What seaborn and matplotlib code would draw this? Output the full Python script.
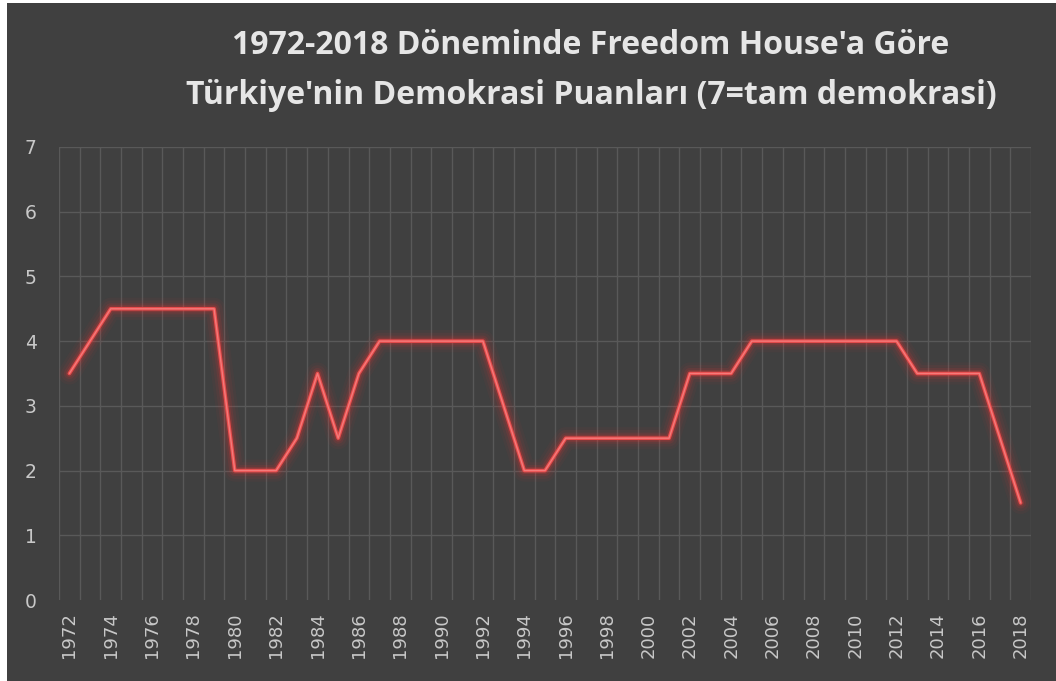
import matplotlib
matplotlib.use("Agg")
import matplotlib.pyplot as plt
import seaborn as sns
import pandas as pd
from matplotlib.patches import Rectangle

years = list(range(1972, 2019))
scores = [3.5, 4, 4.5, 4.5, 4.5, 4.5, 4.5, 4.5, 2, 2, 2, 2.5, 3.5, 2.5, 3.5, 4,
          4, 4, 4, 4, 4, 3, 2, 2, 2.5, 2.5, 2.5, 2.5, 2.5, 2.5, 3.5, 3.5, 3.5, 4,
          4, 4, 4, 4, 4, 4, 4, 3.5, 3.5, 3.5, 3.5, 2.5, 1.5]
y_ticks = [0, 1, 2, 3, 4, 5, 6, 7]
title_lines = ["1972-2018 Döneminde Freedom House'a Göre",
               "Türkiye'nin Demokrasi Puanları (7=tam demokrasi)"]

df = pd.DataFrame({"idx": range(len(years)), "year": years, "score": scores})

sns.set_theme(style="dark")
plt.rcParams['font.family'] = ['DejaVu Sans']

BG = "#404040"
fig = plt.figure(figsize=(10.56, 6.81), dpi=100, facecolor="white")
fig.patches.append(Rectangle((7 / 1056, 0), 1, 1 - 3 / 681, transform=fig.transFigure,
                             facecolor=BG, edgecolor="none", zorder=-5))
ax = fig.add_axes([59 / 1056, 1 - 600 / 681, (1031 - 59) / 1056, (600 - 147) / 681])
ax.set_zorder(1)
ax.set_facecolor(BG)

# glow layers
for lw, a in [(16, 0.04), (12, 0.06), (8, 0.10), (5, 0.18)]:
    ax.plot(df["idx"], df["score"], color="#ff3030", lw=lw, alpha=a,
            solid_joinstyle="round", solid_capstyle="round", zorder=2)
sns.lineplot(data=df, x="idx", y="score", ax=ax, color="#e84c4c", lw=2.6, zorder=3)
ax.plot(df["idx"], df["score"], color="#f47a7a", lw=1.0, zorder=4)

ax.set_xlim(-0.5, len(years) - 0.5)
ax.set_ylim(0, 7)
ax.set_yticks(y_ticks)
ax.set_yticklabels([str(t) for t in y_ticks], color="#c8c8c8", fontsize=13.5)
ax.set_xticks(range(0, len(years), 2))
ax.set_xticklabels([str(years[i]) for i in range(0, len(years), 2)],
                   rotation=90, color="#c8c8c8", fontsize=13)
ax.tick_params(axis="x", length=0, pad=9)
ax.tick_params(axis="y", length=0, pad=16)

# gridlines
for k in range(len(years) + 1):
    ax.axvline(k - 0.5, color="#595959", lw=1.0, zorder=1)
for t in y_ticks[1:]:
    ax.axhline(t, color="#595959", lw=1.0, zorder=1)
ax.grid(False)
for s in ax.spines.values():
    s.set_visible(False)
ax.set_xlabel("")
ax.set_ylabel("")

fig.text(591 / 1056, 1 - 46 / 681, title_lines[0], ha="center", va="center",
         fontsize=23, color="#e6e6e6", fontweight="bold", family="Open Sans")
fig.text(591 / 1056, 1 - 96 / 681, title_lines[1], ha="center", va="center",
         fontsize=23, color="#e6e6e6", fontweight="bold", family="Open Sans")

fig.savefig("out.png", dpi=100, facecolor=fig.get_facecolor())
